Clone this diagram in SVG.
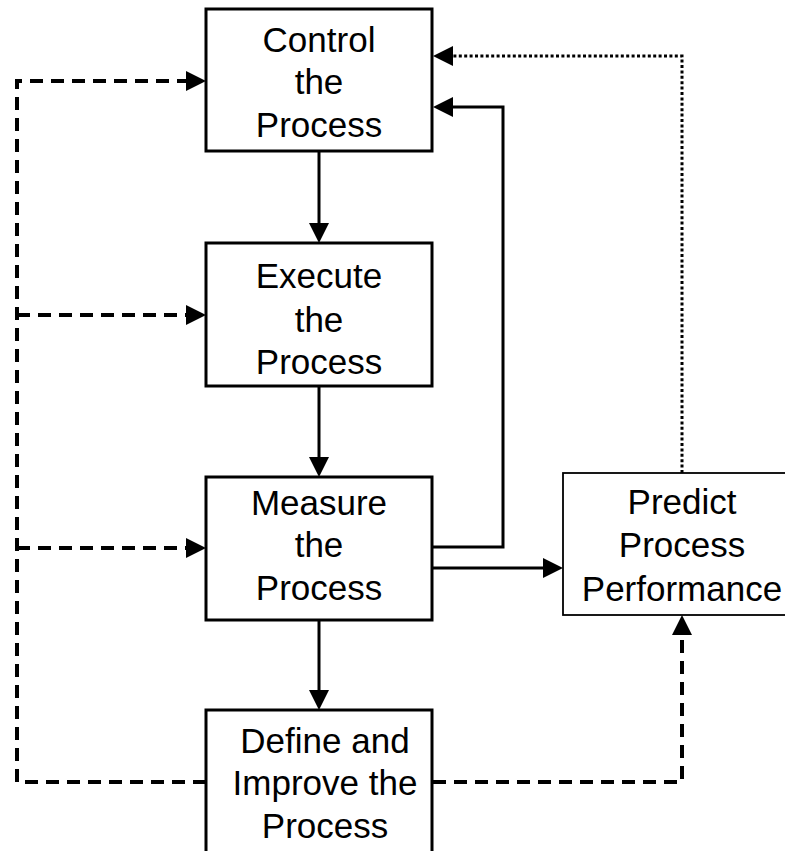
<svg xmlns="http://www.w3.org/2000/svg" width="785" height="851" viewBox="0 0 785 851">
<defs>
<style>
.box{fill:#fff;stroke:#000;stroke-width:3}
.thin{fill:#fff;stroke:#000;stroke-width:1.8}
.lbl{font-family:"Liberation Sans",Arial,sans-serif;font-size:35px;fill:#000;text-anchor:middle}
.solid{fill:none;stroke:#000;stroke-width:3}
.dash{fill:none;stroke:#000;stroke-width:4;stroke-dasharray:13 8}
.dot{fill:none;stroke:#000;stroke-width:3;stroke-dasharray:3 2.4}
</style>
<marker id="ah" markerUnits="userSpaceOnUse" markerWidth="20" markerHeight="20" refX="0" refY="10" orient="auto" viewBox="0 0 20 20">
<path d="M0,0 L20,10 L0,20 z" fill="#000"/>
</marker>
</defs>
<rect width="785" height="851" fill="#fff"/>
<g id="connectors">
<path class="solid" d="M319,152 V223" marker-end="url(#ah)"/>
<path class="solid" d="M319,386 V457" marker-end="url(#ah)"/>
<path class="solid" d="M319,620 V690" marker-end="url(#ah)"/>
<path class="solid" d="M433,547 H503 V107 H453" marker-end="url(#ah)"/>
<path class="solid" d="M433,568 H543" marker-end="url(#ah)"/>
<path class="dash" d="M206,782 H17 V81 H186" marker-end="url(#ah)"/>
<path class="dash" d="M17,315 H186" marker-end="url(#ah)"/>
<path class="dash" d="M17,548 H186" marker-end="url(#ah)"/>
<path class="dash" d="M433,782 H682 V635" marker-end="url(#ah)"/>
<path class="dot" d="M682,473 V56 H453" marker-end="url(#ah)"/>
</g>
<g id="control">
<rect class="box" x="206" y="9" width="226" height="142"/>
<text class="lbl" x="319" y="52">Control</text>
<text class="lbl" x="319" y="94">the</text>
<text class="lbl" x="319" y="137">Process</text>
</g>
<g id="execute">
<rect class="box" x="206" y="243" width="226" height="143"/>
<text class="lbl" x="319" y="288">Execute</text>
<text class="lbl" x="319" y="332">the</text>
<text class="lbl" x="319" y="374">Process</text>
</g>
<g id="measure">
<rect class="box" x="206" y="477" width="226" height="143"/>
<text class="lbl" x="319" y="515">Measure</text>
<text class="lbl" x="319" y="557">the</text>
<text class="lbl" x="319" y="600">Process</text>
</g>
<g id="define">
<rect class="box" x="206" y="710" width="226" height="170"/>
<text class="lbl" x="325" y="753">Define and</text>
<text class="lbl" x="325" y="795">Improve the</text>
<text class="lbl" x="325" y="838">Process</text>
</g>
<g id="predict">
<rect class="thin" x="563" y="473" width="224" height="142"/>
<text class="lbl" x="682" y="514">Predict</text>
<text class="lbl" x="682" y="557">Process</text>
<text class="lbl" x="682" y="601">Performance</text>
</g>
</svg>
